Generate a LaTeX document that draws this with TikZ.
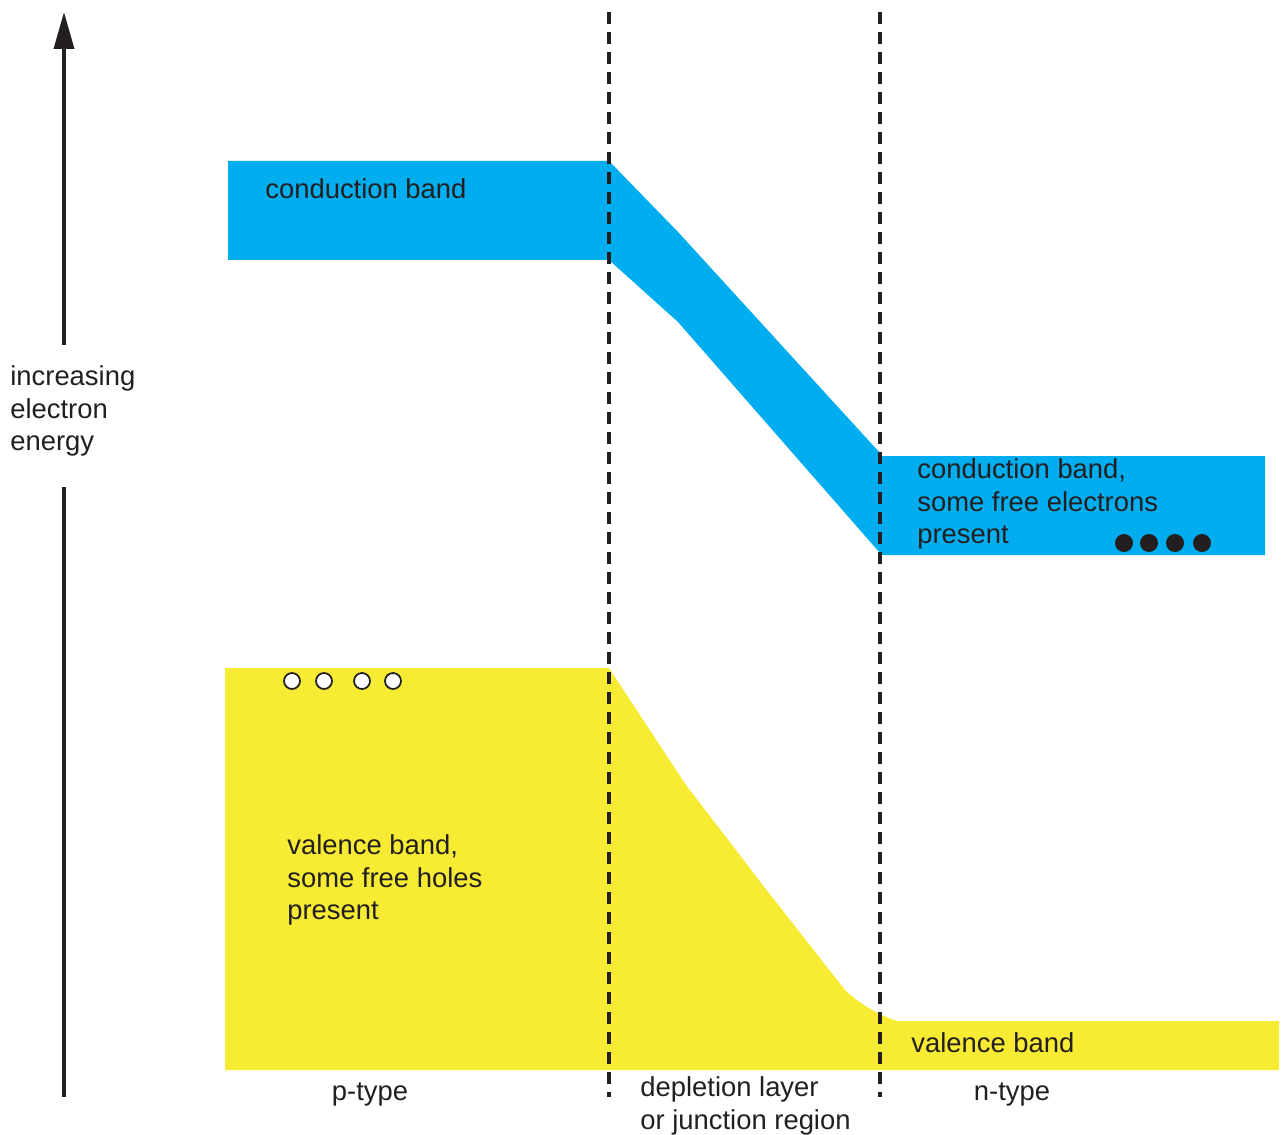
\documentclass[tikz,border=0pt]{standalone}
\usepackage{fontspec}
\setmainfont{Liberation Sans}
\usetikzlibrary{positioning,arrows.meta}
\definecolor{bandblue}{HTML}{00AEEF}
\definecolor{bandyellow}{HTML}{F7EC33}
\definecolor{inkgray}{HTML}{231F20}

\begin{document}
\begin{tikzpicture}[x=0.02cm, y=-0.02cm,
    lbl/.style={anchor=west, align=left, inner sep=0pt, text=inkgray,
      font=\fontsize{15.6}{18.7}\selectfont},
    junction/.style={inkgray, line width=2pt, dash pattern=on 0.24cm off 0.16cm},
    hole/.style={draw=inkgray, fill=white, line width=1pt},
    electron/.style={fill=inkgray},
    energyaxis/.style={inkgray, line width=2.1pt}
    ]
    \useasboundingbox (0,0) rectangle (1281,1135);

    % conduction band
    \fill[bandblue] (228,161) -- (609,161) -- (678,232) -- (880,453) -- (880,456)
      -- (1265,456) -- (1265,555) -- (880,555) -- (880,553) -- (678,322)
      -- (609,260) -- (228,260) -- cycle;

    % valence band
    \fill[bandyellow] (225,668) -- (609,668) -- (686,785) -- (765,888) -- (845,990)
      .. controls (865,1008) and (880,1015) .. (897,1021) -- (1279,1021)
      -- (1279,1070) -- (225,1070) -- cycle;

    % junction edges
    \draw[junction] (609,12) -- (609,1097);
    \draw[junction] (880,12) -- (880,1097);

    % holes and electrons
    \foreach \x in {292,324,362,393}
      \draw[hole] (\x,681) circle (0.16cm);
    \foreach \x in {1124,1149,1175,1202}
      \fill[electron] (\x,543) circle (0.18cm);

    % labels
    \node[lbl] (cbp) at (265,189) {conduction band};
    \node[lbl] (cbn) at (917,504) {conduction band,\\some free electrons\\present};
    \node[lbl] (vbp) at (287,880) {valence band,\\some free holes\\present};
    \node[lbl] (vbn) at (911,1043) {valence band};
    \node[lbl, anchor=center] (ptype) at (370,1094) {p-type};
    \node[lbl] (depl) at (640,1106) {depletion layer\\or junction region};
    \node[lbl, anchor=center] (ntype) at (1012,1094) {n-type};
    \node[lbl] (energy) at (10,411) {increasing\\electron\\energy};

    % energy axis
    \coordinate (axbase) at (64,1097);
    \coordinate (gapbot) at (64,487);
    \coordinate (gaptop) at (64,345);
    \coordinate (axtip) at (64,12);
    \draw[energyaxis] (axbase) -- (gapbot);
    \draw[energyaxis, -{Triangle[length=0.74cm, width=0.4cm]}] (gaptop) -- (axtip);

\end{tikzpicture}
\end{document}
